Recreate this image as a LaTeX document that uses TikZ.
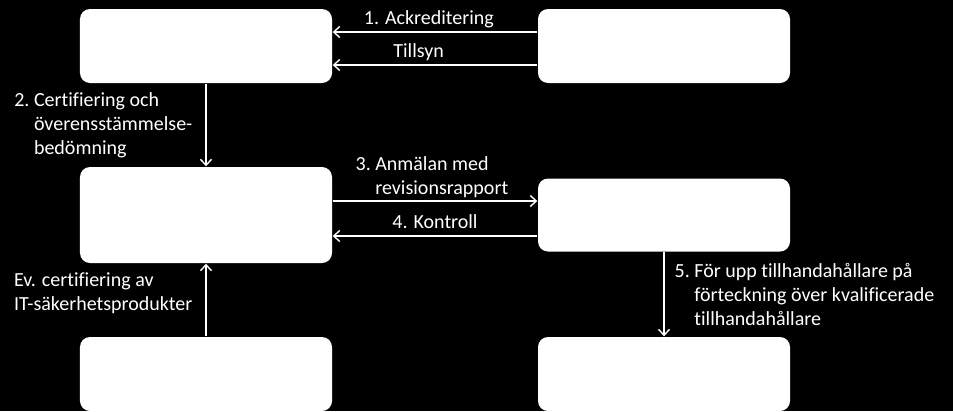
\documentclass[tikz,border=0pt]{standalone}
\usepackage{fontspec}
\setmainfont[Ligatures=CommonOff]{Carlito}
\usetikzlibrary{arrows.meta, positioning}

\begin{document}
\begin{tikzpicture}[x=1bp,y=-1bp,>={Straight Barb[length=6bp,width=11bp]},
      line width=1.4bp, color=white,
      every node/.style={font=\fontsize{20bp}{24bp}\selectfont},
      org/.style={fill=white,rounded corners=10bp,minimum width=252bp,minimum height=74bp,inner sep=0pt},
      lbl/.style={align=left,inner sep=2bp}]
      \fill[black] (0,0) rectangle (953,411);
      \node[org]   (A) at (206,46) {};
      \node[org]   (B) [on grid,right=458bp of A] {};
      \node[org, minimum height=96bp]  (C) [on grid,below=169bp of A] {};
      \node[org, minimum height=73bp]  (D) [on grid,right=458bp of C] {};
      \node[org]   (E) [on grid,below=159bp of C] {};
      \node[org]   (F) [on grid,right=458bp of E] {};
      \draw[->] ([yshift=14bp]B.west) -- node[above,pos=0.53] {1. Ackreditering} ([yshift=14bp]A.east);
      \draw[->] ([yshift=-19bp]B.west) -- node[above,pos=0.58] {Tillsyn} ([yshift=-19bp]A.east);
      \draw[->] (A.south) -- node[left,lbl,xshift=-11bp]
        {2.\ Certifiering och\\\hphantom{2.\ }överensstämmelse-\\\hphantom{2.\ }bedömning} (C.north);
      \draw[->] ([yshift=14bp]C.east) -- node[above,lbl,pos=0.485,yshift=1bp]
        {3.\ Anmälan med\\\hphantom{3.\ }revisionsrapport} ([yshift=14bp]D.west);
      \draw[->] ([yshift=-21bp]D.west) -- node[above,yshift=3bp] {4. Kontroll} ([yshift=-21bp]C.east);
      \draw[->] (E.north) -- node[left,lbl,pos=0.6,xshift=-11bp]
        {Ev. certifiering av\\IT-säkerhetsprodukter} (C.south);
      \draw[->] (D.south) -- node[right,lbl,xshift=8bp]
        {5.\ För upp tillhandahållare på\\\hphantom{5.\ }förteckning över kvalificerade\\\hphantom{5.\ }tillhandahållare} (F.north);
\end{tikzpicture}
\end{document}
